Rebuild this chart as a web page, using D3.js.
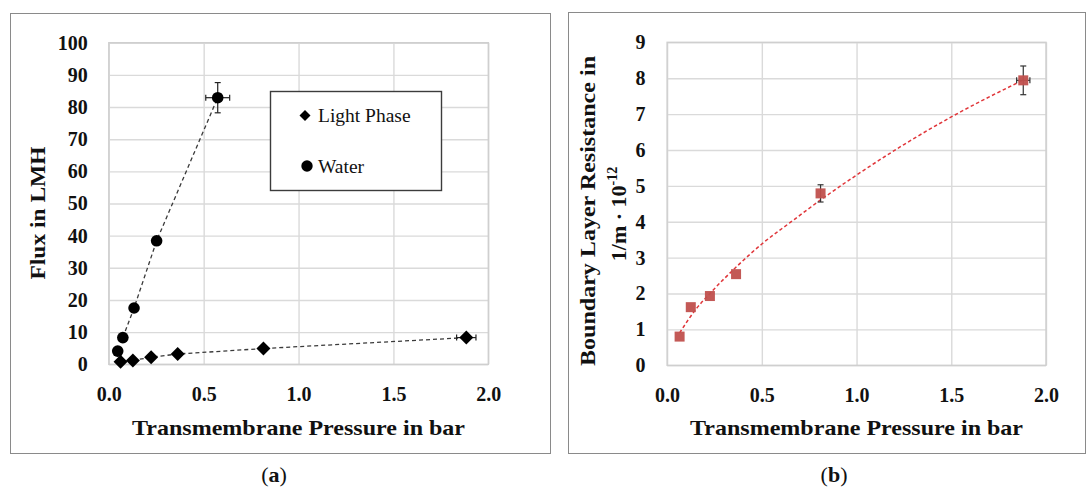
<!DOCTYPE html>
<html>
<head>
<meta charset="utf-8">
<script src="https://cdn.jsdelivr.net/npm/d3@7"></script>
<style>
  body { margin: 0; background: #fff; }
  svg { display: block; }
</style>
</head>
<body>
<svg id="fig" width="1086" height="488"></svg>
<script>
// panel (a): flux vs transmembrane pressure
const waterP    = [0.047, 0.074, 0.133, 0.252, 0.574];
const waterFlux = [4.1, 8.3, 17.5, 38.4, 82.9];
const waterErrX = [0, 0, 0, 0, 0.063];
const waterErrY = [0, 0, 0, 0, 4.7];

const lightP    = [0.062, 0.127, 0.223, 0.363, 0.815, 1.884];
const lightFlux = [0.8, 1.2, 2.2, 3.2, 4.9, 8.3];
const lightErrX = [0, 0, 0, 0, 0, 0.051];
const lightErrY = [0, 0, 0, 0, 0, 0];

// panel (b): boundary layer resistance
const resP    = [0.066, 0.125, 0.226, 0.364, 0.810, 1.880];
const resR    = [0.80, 1.62, 1.93, 2.54, 4.79, 7.94];
const resErrX = [0, 0, 0, 0, 0, 0.035];
const resErrY = [0, 0, 0, 0, 0.24, 0.40];

// dashed trend curve
const trendP = [0.066, 0.15, 0.226, 0.367, 0.5, 0.65, 0.84, 1.0, 1.25, 1.5, 1.88];
const trendR = [0.90, 1.55, 2.0, 2.75, 3.38, 3.98, 4.72, 5.30, 6.15, 6.92, 7.95];

const xTicks = [0, 0.5, 1.0, 1.5, 2.0];
const fluxTicks = d3.range(0, 101, 10);
const resTicks = d3.range(0, 10, 1);

const serif = "'Liberation Serif', 'Times New Roman', serif";
const svg = d3.select("#fig");

// outer frames
svg.append("rect")
  .attr("x", 10.5).attr("y", 13.5).attr("width", 540).attr("height", 440)
  .attr("fill", "none").attr("stroke", "#8a8a8a").attr("stroke-width", 1);
svg.append("rect")
  .attr("x", 568.5).attr("y", 12.5).attr("width", 517).attr("height", 441)
  .attr("fill", "none").attr("stroke", "#8a8a8a").attr("stroke-width", 1);

function panel(o) {
  const x = d3.scaleLinear().domain([0, 2]).range([o.left, o.right]);
  const y = d3.scaleLinear().domain([0, o.ymax]).range([o.bottom, o.top]);

  // y grid + labels
  const gy = svg.append("g")
    .attr("transform", `translate(${o.left},0)`)
    .call(d3.axisLeft(y).tickValues(o.yTicks).tickSize(-(o.right - o.left))
      .tickPadding(o.yPad).tickFormat(d3.format("d")));
  // x grid + labels
  const gx = svg.append("g")
    .attr("transform", `translate(0,${o.bottom})`)
    .call(d3.axisBottom(x).tickValues(xTicks).tickSize(-(o.bottom - o.top))
      .tickPadding(o.xPad).tickFormat(d3.format(".1f")));

  [gx, gy].forEach(g => {
    g.attr("font-family", serif).attr("font-size", 20);
    g.select(".domain").remove();
    g.selectAll("line").attr("stroke", "#dadada").attr("stroke-width", 1.4);
    g.selectAll("text")
      .attr("fill", "#111")
      .style("font-family", serif)
      .style("font-size", "20px")
      .style("font-weight", "bold");
  });

  svg.append("rect")
    .attr("x", o.left).attr("y", o.top)
    .attr("width", o.right - o.left).attr("height", o.bottom - o.top)
    .attr("fill", "none").attr("stroke", "#cfcfcf").attr("stroke-width", 1.4);

  // x title
  svg.append("text")
    .attr("x", (o.left + o.right) / 2).attr("y", 435)
    .attr("text-anchor", "middle")
    .attr("textLength", 333).attr("lengthAdjust", "spacingAndGlyphs")
    .style("font-family", serif).style("font-size", "22px").style("font-weight", "bold")
    .attr("fill", "#111")
    .text("Transmembrane Pressure in bar");

  return { x, y };
}

function errorBars(sc, px, py, ex, ey, color) {
  const g = svg.append("g").attr("stroke", color).attr("stroke-width", 1.2).attr("fill", "none");
  px.forEach((p, i) => {
    const cx = sc.x(p), cy = sc.y(py[i]);
    if (ey[i] > 0) {
      const y0 = sc.y(py[i] - ey[i]), y1 = sc.y(py[i] + ey[i]);
      g.append("line").attr("x1", cx).attr("x2", cx).attr("y1", y0).attr("y2", y1);
      g.append("line").attr("x1", cx - 3).attr("x2", cx + 3).attr("y1", y0).attr("y2", y0);
      g.append("line").attr("x1", cx - 3).attr("x2", cx + 3).attr("y1", y1).attr("y2", y1);
    }
    if (ex[i] > 0) {
      const x0 = sc.x(p - ex[i]), x1 = sc.x(p + ex[i]);
      g.append("line").attr("x1", x0).attr("x2", x1).attr("y1", cy).attr("y2", cy);
      g.append("line").attr("x1", x0).attr("x2", x0).attr("y1", cy - 3).attr("y2", cy + 3);
      g.append("line").attr("x1", x1).attr("x2", x1).attr("y1", cy - 3).attr("y2", cy + 3);
    }
  });
}

const diamond = h => `M0,${-h}L${h},0L0,${h}L${-h},0Z`;

// ---------- panel (a)
const A = panel({ left: 108.8, right: 488.3, top: 42.7, bottom: 364.3, ymax: 100,
                  yTicks: fluxTicks, yPad: 21, xPad: 23 });

const lineA = d3.line().x(d => A.x(d[0])).y(d => A.y(d[1]));
svg.append("path")
  .datum(d3.zip(waterP, waterFlux).slice(1))
  .attr("d", lineA).attr("fill", "none")
  .attr("stroke", "#3a3a3a").attr("stroke-width", 1.3).attr("stroke-dasharray", "4,3");
svg.append("path")
  .datum(d3.zip(lightP, lightFlux).slice(1))
  .attr("d", lineA).attr("fill", "none")
  .attr("stroke", "#3a3a3a").attr("stroke-width", 1.3).attr("stroke-dasharray", "4,3");

errorBars(A, waterP, waterFlux, waterErrX, waterErrY, "#222");
errorBars(A, lightP, lightFlux, lightErrX, lightErrY, "#222");

svg.append("g").selectAll("circle")
  .data(d3.zip(waterP, waterFlux))
  .join("circle")
    .attr("cx", d => A.x(d[0])).attr("cy", d => A.y(d[1]))
    .attr("r", 5.8).attr("fill", "#000");

svg.append("g").selectAll("path")
  .data(d3.zip(lightP, lightFlux))
  .join("path")
    .attr("transform", d => `translate(${A.x(d[0])},${A.y(d[1])})`)
    .attr("d", diamond(7)).attr("fill", "#000");

svg.append("text")
  .attr("transform", "translate(45.2,213) rotate(-90)")
  .attr("text-anchor", "middle")
  .attr("textLength", 133).attr("lengthAdjust", "spacingAndGlyphs")
  .style("font-family", serif).style("font-size", "22px").style("font-weight", "bold")
  .attr("fill", "#111")
  .text("Flux in LMH");

// legend
const leg = svg.append("g");
leg.append("rect")
  .attr("x", 270.5).attr("y", 91.5).attr("width", 171).attr("height", 99)
  .attr("fill", "#fff").attr("stroke", "#3c3c3c").attr("stroke-width", 1.4);
leg.append("path").attr("transform", "translate(305,115.5)").attr("d", diamond(5.5)).attr("fill", "#000");
leg.append("circle").attr("cx", 307).attr("cy", 166).attr("r", 5.7).attr("fill", "#000");
leg.selectAll("text")
  .data([["Light Phase", 122], ["Water", 172.5]])
  .join("text")
    .attr("x", 318).attr("y", d => d[1])
    .style("font-family", serif).style("font-size", "19.5px")
    .attr("fill", "#111")
    .text(d => d[0]);

// ---------- panel (b)
const B = panel({ left: 667.1, right: 1046, top: 42.3, bottom: 365.3, ymax: 9,
                  yTicks: resTicks, yPad: 21.6, xPad: 22.3 });

svg.append("path")
  .datum(d3.zip(trendP, trendR))
  .attr("d", d3.line().x(d => B.x(d[0])).y(d => B.y(d[1])).curve(d3.curveMonotoneX))
  .attr("fill", "none")
  .attr("stroke", "#e0363a").attr("stroke-width", 1.5).attr("stroke-dasharray", "3.5,2.5");

errorBars(B, resP, resR, resErrX, resErrY, "#333");

svg.append("g").selectAll("rect")
  .data(d3.zip(resP, resR))
  .join("rect")
    .attr("x", d => B.x(d[0]) - 5).attr("y", d => B.y(d[1]) - 5)
    .attr("width", 10).attr("height", 10)
    .attr("fill", "#c0504d").attr("fill-opacity", 0.95);

const yb = svg.append("g").style("font-family", serif).style("font-weight", "bold").attr("fill", "#111");
yb.append("text")
  .attr("transform", "translate(594.5,211) rotate(-90)")
  .attr("text-anchor", "middle")
  .attr("textLength", 310).attr("lengthAdjust", "spacingAndGlyphs")
  .style("font-size", "22px")
  .text("Boundary Layer Resistance in");
const l2 = yb.append("text")
  .attr("transform", "translate(626,214) rotate(-90)")
  .attr("text-anchor", "middle")
  .style("font-size", "22px");
l2.append("tspan").text("1/m · 10");
l2.append("tspan").attr("dy", -9).style("font-size", "14px").text("-12");

// panel captions
[["a", 274], ["b", 834]].forEach(([c, cx]) => {
  const t = svg.append("text")
    .attr("x", cx).attr("y", 482).attr("text-anchor", "middle")
    .style("font-family", serif).style("font-size", "22px").attr("fill", "#111");
  t.append("tspan").text("(");
  t.append("tspan").style("font-weight", "bold").text(c);
  t.append("tspan").text(")");
});
</script>
</body>
</html>
